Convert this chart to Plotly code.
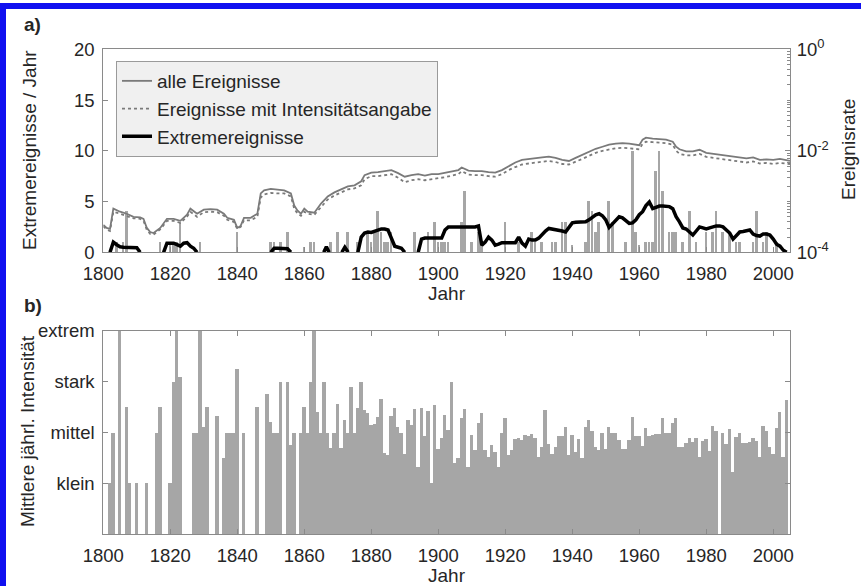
import plotly.graph_objects as go

# ---------------- data ----------------
# panel a: extreme events per year (bars)
ext_bar_years = [1804, 1806, 1807, 1817, 1820, 1821, 1822, 1823, 1829, 1840, 1850, 1851, 1853, 1855,
                 1860, 1862, 1863, 1868, 1870, 1873, 1876, 1879, 1880, 1881, 1882, 1883, 1884, 1885,
                 1886, 1893, 1897, 1899, 1900, 1901, 1902, 1903, 1907, 1908, 1910, 1912, 1913, 1920,
                 1924, 1928, 1929, 1931, 1934, 1935, 1937, 1938, 1940, 1944, 1945, 1946, 1947, 1948,
                 1951, 1952, 1956, 1958, 1959, 1960, 1962, 1963, 1964, 1965, 1966, 1967, 1969, 1970,
                 1971, 1973, 1975, 1977, 1980, 1982, 1983, 1985, 1987, 1989, 1990, 1994, 1995, 1997,
                 1998, 2001]
ext_bar_counts = [1, 1, 4, 1, 1, 1, 1, 3, 1, 2, 1, 1, 1, 2,
                  0.5, 1, 1, 1, 2, 2, 1, 2, 1, 2, 4, 2, 1, 1,
                  2, 2, 2, 3, 1, 1, 1, 1, 3, 6, 1, 2, 1, 3,
                  1, 2, 1, 1, 1, 1, 3, 3, 0.7, 1, 5, 4, 2, 3,
                  5, 3, 1, 10, 2, 0.7, 1, 1, 1, 8, 10, 6, 2, 2,
                  2, 1, 4, 1, 2, 2, 4, 2, 2, 1, 1, 1, 4, 1,
                  2, 1]

# panel a: event rate curves (read in left-axis units)
line_years = [1800, 1801, 1802, 1803, 1805, 1807, 1809, 1811, 1812, 1813, 1814, 1815, 1817, 1819,
              1821, 1823, 1825, 1826, 1828, 1830, 1832, 1834, 1836, 1837, 1839, 1840, 1841, 1842,
              1844, 1846, 1847, 1848, 1850, 1852, 1854, 1856, 1857, 1858, 1859, 1860, 1861, 1863,
              1865, 1867, 1869, 1871, 1873, 1875, 1877, 1878, 1880, 1882, 1884, 1886, 1888, 1890,
              1892, 1894, 1896, 1898, 1900, 1902, 1904, 1906, 1907, 1909, 1911, 1913, 1915, 1917,
              1919, 1921, 1923, 1925, 1927, 1929, 1931, 1933, 1935, 1937, 1939, 1941, 1943, 1945,
              1947, 1949, 1951, 1953, 1955, 1957, 1959, 1960, 1961, 1962, 1964, 1966, 1968, 1970,
              1971, 1972, 1974, 1976, 1978, 1980, 1982, 1984, 1986, 1988, 1990, 1992, 1994, 1996,
              1998, 2000, 2002, 2004, 2005]
alle = [2.7, 2.4, 2.3, 4.3, 4.0, 3.8, 3.5, 3.45, 3.3, 2.4, 2.0, 1.9, 2.4, 3.3,
        3.3, 3.1, 3.7, 4.3, 3.8, 4.2, 4.25, 4.2, 3.8, 3.4, 3.2, 2.4, 2.6, 3.4,
        3.4, 3.8, 5.8, 6.1, 6.25, 6.15, 6.1, 5.8, 4.6, 4.1, 3.8, 4.3, 4.0, 3.9,
        4.8, 5.5, 5.9, 6.2, 6.5, 6.6, 7.0, 7.6, 7.85, 7.9, 8.0, 8.1, 7.8, 7.45,
        7.6, 7.7, 7.55, 7.7, 7.7, 7.85, 7.95, 8.1, 8.35, 8.05, 8.0, 8.0, 7.9, 7.85,
        8.1, 8.5, 8.85, 9.1, 9.2, 9.3, 9.35, 9.42, 9.3, 9.1, 9.0, 9.3, 9.6, 9.9,
        10.2, 10.4, 10.6, 10.7, 10.75, 10.7, 10.6, 10.55, 11.1, 11.3, 11.2, 11.15, 11.1, 10.9,
        10.4, 10.15, 9.95, 9.95, 10.1, 9.8, 9.7, 9.65, 9.5, 9.4, 9.3, 9.25, 9.35, 9.1,
        9.15, 9.1, 9.2, 9.05, 9.0]
mit_intensitaet = [2.55, 2.25, 2.1, 4.0, 3.8, 3.6, 3.35, 3.3, 3.1, 2.2, 1.8, 1.75, 2.25, 3.1,
                   3.1, 2.9, 3.5, 4.0, 3.5, 3.95, 4.0, 3.95, 3.6, 3.2, 3.0, 2.3, 2.5, 3.15,
                   3.15, 3.5, 5.4, 5.7, 5.85, 5.8, 5.8, 5.5, 4.3, 3.8, 3.6, 4.0, 3.8, 3.7,
                   4.5, 5.2, 5.6, 5.9, 6.2, 6.3, 6.6, 7.2, 7.5, 7.5, 7.6, 7.7, 7.35, 6.9,
                   7.1, 7.2, 7.1, 7.2, 7.25, 7.4, 7.55, 7.7, 8.0, 7.65, 7.6, 7.6, 7.5, 7.45,
                   7.7, 8.1, 8.4, 8.65, 8.75, 8.85, 8.9, 9.0, 8.9, 8.7, 8.65, 8.9, 9.2, 9.5,
                   9.8, 10.0, 10.15, 10.25, 10.3, 10.25, 10.2, 10.15, 10.7, 10.9, 10.85, 10.8, 10.75, 10.6,
                   10.0, 9.7, 9.55, 9.55, 9.7, 9.4, 9.3, 9.25, 9.1, 9.0, 8.9, 8.85, 8.95, 8.75,
                   8.8, 8.7, 8.8, 8.7, 8.7]

ext_years = [1802, 1803, 1804, 1805, 1806, 1807, 1808, 1809, 1810, 1811, None,
             1818, 1819, 1820, 1821, 1822, 1823, 1824, 1825, 1826, 1827, 1828, None,
             1850, 1851, 1852, 1853, 1854, 1855, 1856, None,
             1865.8, 1866.6, 1867.4, None,
             1871.2, 1872.1, 1873.1, None,
             1876, 1877, 1878, 1879, 1880, 1881, 1882, 1883, 1884, 1885, 1886, 1887, 1888, 1889, 1890, None,
             1894, 1895, 1896, 1897, 1898, 1899, 1900, 1901, 1902, 1903, 1904, 1905, 1906, 1907, 1908,
             1909, 1910, 1911, 1912, 1913, 1914, 1915, 1916, 1917, 1918, 1919, 1920, 1921, 1922, 1923,
             1924, 1925, 1926, 1927, 1928, 1929, 1930, 1931, 1932, 1933, 1934, 1935, 1936, 1937, 1938,
             1939, 1940, 1941, 1942, 1943, 1944, 1945, 1946, 1947, 1948, 1949, 1950, 1951, 1952, 1953,
             1954, 1955, 1956, 1957, 1958, 1959, 1960, 1961, 1962, 1963, 1964, 1965, 1966, 1967, 1968,
             1969, 1970, 1971, 1972, 1973, 1974, 1975, 1976, 1977, 1978, 1979, 1980, 1981, 1982, 1983,
             1984, 1985, 1986, 1987, 1988, 1989, 1990, 1991, 1992, 1993, 1994, 1995, 1996, 1997, 1998,
             1999, 2000, 2001, 2002, 2003, 2004]
ext_vals = [0, 1.0, 0.75, 0.55, 0.5, 0.5, 0.5, 0.5, 0.45, 0, None,
            0, 0.9, 0.9, 0.9, 0.75, 0.6, 0.9, 0.95, 0.6, 0.4, 0, None,
            0, 0.4, 0.4, 0.4, 0.4, 0.35, 0, None,
            0, 0.55, 0, None,
            0, 0.5, 0, None,
            0, 1.5, 1.9, 2.0, 1.95, 2.05, 2.2, 2.3, 2.3, 2.2, 1.4, 0.6, 0.5, 0.4, 0, None,
            0, 1.3, 1.4, 1.4, 1.4, 1.4, 1.4, 1.4, 2.2, 2.5, 2.5, 2.5, 2.5, 2.5, 2.5,
            2.5, 2.5, 2.5, 2.6, 0.7, 1.0, 1.5, 1.2, 0.7, 0.8, 0.95, 0.95, 0.95, 0.95, 0.95,
            1.5, 0.9, 0.6, 1.3, 1.2, 1.2, 1.4, 1.8, 2.1, 2.35, 2.3, 2.27, 2.2, 2.1, 2.0,
            2.5, 2.9, 2.95, 2.95, 2.95, 3.0, 3.2, 3.5, 3.7, 3.8, 3.6, 3.2, 2.45, 2.8, 3.1,
            3.5, 3.4, 3.1, 2.85, 2.9, 3.2, 3.7, 4.0, 4.6, 4.95, 4.3, 4.4, 4.55, 4.55, 4.5,
            4.5, 4.3, 3.5, 3.0, 2.4, 2.3, 2.0, 1.7, 2.1, 2.5, 2.4, 2.3, 2.4, 2.5, 2.6,
            2.6, 2.5, 2.2, 1.9, 1.3, 1.7, 2.0, 2.05, 2.1, 2.2, 1.8, 1.65, 1.6, 1.8, 1.8,
            1.7, 1.3, 0.8, 0.6, 0.2, 0]

# panel b: mean annual intensity (0 = none, 1 = klein ... 4 = extrem)
int_years = list(range(1800, 2005))
int_vals = [0, 0, 1, 2, 0, 4, 0, 2.5, 1, 0,
            1, 0, 0, 1, 0, 0, 2, 2.5, 0, 0,
            1, 3, 4, 3.1, 0, 0, 0, 2, 2, 4,
            2.1, 2.5, 0, 0, 2.33, 0, 1.5, 2, 2, 2,
            3.25, 0, 2, 0, 0, 0, 2.5, 0, 0, 2.75,
            2.2, 2, 2, 3, 0, 3, 1.75, 2, 0, 2,
            2.5, 2, 3, 4, 2.4, 2, 3, 2, 1.7, 2,
            2.57, 1.7, 2.24, 2.0, 2.89, 2.0, 2.49, 3.0, 2.44, 2.39,
            2.15, 2.17, 2.3, 2.66, 1.6, 1.56, 2.33, 2.48, 2.1, 2.0,
            1.58, 2.24, 2.15, 2.46, 1.32, 2.49, 1.94, 2.43, 1.0, 2.54,
            1.67, 1.9, 2.35, 2.05, 3.0, 1.4, 1.49, 2.28, 2.46, 1.33,
            1.95, 1.66, 2.18, 2.39, 1.66, 1.52, 1.75, 1.62, 1.33, 2.0,
            2.28, 1.56, 1.66, 1.87, 1.89, 1.85, 1.95, 1.94, 1.98, 1.89,
            1.52, 1.71, 2.44, 1.77, 1.58, 1.72, 1.93, 1.93, 2.1, 1.56,
            1.96, 1.62, 1.87, 1.5, 2.1, 2.25, 2.02, 1.72, 1.66, 2.0,
            1.67, 2.1, 2.0, 2.0, 1.85, 1.68, 1.67, 1.85, 2.31, 1.93,
            1.93, 1.73, 2.08, 1.94, 1.96, 1.98, 1.98, 2.28, 2.0, 2.0,
            2.19, 2.28, 1.72, 1.72, 1.79, 1.89, 1.82, 1.89, 1.52, 1.84,
            1.87, 1.64, 2.13, 2.02, 0, 2.0, 1.77, 2.06, 1.23, 1.92,
            2.0, 1.8, 1.8, 1.82, 1.9, 1.84, 1.51, 2.13, 2.03, 1.72,
            1.58, 2.08, 2.4, 1.51, 2.64]

x_ticks = [1800, 1820, 1840, 1860, 1880, 1900, 1920, 1940, 1960, 1980, 2000]
rate_range = [1e-4, 1]
rate_ticks = [1e-4, 1e-2, 1]
rate_labels = ["10<sup>-4</sup>", "10<sup>-2</sup>", "10<sup>0</sup>"]
int_ticks = [1, 2, 3, 4]
int_labels = ["klein", "mittel", "stark", "extrem"]

# ---------------- figure ----------------
FONT = "Liberation Sans, Arial, sans-serif"
TXT = "#262626"
AX = "#8a8a8a"
BAR = "#a6a6a6"
W, H = 861, 586

fig = go.Figure()

fig.add_trace(go.Bar(x=ext_bar_years, y=ext_bar_counts, width=0.8, marker=dict(color=BAR, line=dict(width=0)),
                     showlegend=False, hoverinfo="skip", xaxis="x", yaxis="y"))
fig.add_trace(go.Scatter(x=line_years, y=alle, mode="lines", name="alle Ereignisse",
                         line=dict(color="#7a7a7a", width=1.8), xaxis="x", yaxis="y"))
fig.add_trace(go.Scatter(x=line_years, y=mit_intensitaet, mode="lines", name="Ereignisse mit Intensitätsangabe",
                         line=dict(color="#7a7a7a", width=1.8, dash="dot"), xaxis="x", yaxis="y"))
fig.add_trace(go.Scatter(x=ext_years, y=ext_vals, mode="lines", name="Extremereignisse",
                         line=dict(color="black", width=3.5), connectgaps=False, xaxis="x", yaxis="y"))
# carrier for the right-hand log axis (Ereignisrate); invisible
fig.add_trace(go.Scatter(x=[1800, 1800], y=rate_range, mode="markers", marker=dict(opacity=0, size=1),
                         showlegend=False, hoverinfo="skip", xaxis="x", yaxis="y2"))
fig.add_trace(go.Bar(x=int_years, y=int_vals, width=1.0, marker=dict(color=BAR, line=dict(width=0)),
                     showlegend=False, hoverinfo="skip", xaxis="x2", yaxis="y3"))

xdom = [103.3 / W, 790 / W]
ya_dom = [1 - 252.3 / H, 1 - 49.3 / H]
yb_dom = [1 - 534 / H, 1 - 331 / H]

common_axis = dict(showline=True, linecolor=AX, linewidth=1, ticks="inside", ticklen=5, tickcolor=AX,
                   showgrid=False, zeroline=False, tickfont=dict(family=FONT, size=18.5, color=TXT))

fig.update_layout(
    width=W, height=H, margin=dict(l=0, r=0, t=0, b=0, autoexpand=False),
    paper_bgcolor="white", plot_bgcolor="white",
    barmode="overlay", bargap=0,
    font=dict(family=FONT, color=TXT, size=19),
    xaxis=dict(domain=xdom, range=[1800, 2005], anchor="y", tickvals=x_ticks, mirror=True,
               ticklabelstandoff=4, automargin=False, **common_axis),
    yaxis=dict(domain=ya_dom, range=[0, 20], dtick=5, anchor="x", ticklabelstandoff=4,
               automargin=False, **common_axis),
    yaxis2=dict(overlaying="y", side="right", type="log", range=[-4, 0], anchor="x",
                tickvals=rate_ticks, ticktext=rate_labels, ticklabelstandoff=2, automargin=False,
                minor=dict(ticks="inside", ticklen=3, tickcolor=AX,
                           tickvals=[k * 10 ** e for e in (-4, -3, -2, -1) for k in range(2, 10)] + [1e-3, 1e-1]),
                **common_axis),
    xaxis2=dict(domain=xdom, range=[1800, 2005], anchor="y3", tickvals=x_ticks, mirror="ticks",
                ticklabelstandoff=5, automargin=False, **common_axis),
    yaxis3=dict(domain=yb_dom, range=[0, 4], anchor="x2", tickvals=int_ticks, ticktext=int_labels,
                mirror="ticks", ticklabelstandoff=4, automargin=False, **common_axis),
    legend=dict(x=116 / W, y=1 - 61 / H, xanchor="left", yanchor="top", bgcolor="#f0f0f0",
                bordercolor="#9a9a9a", borderwidth=1, font=dict(family=FONT, size=19, color=TXT),
                traceorder="normal", tracegroupgap=0, itemwidth=30),
)

annotations = [
    dict(text="<b>a)</b>", x=22 / W, y=1 - 25 / H, xanchor="left", yanchor="middle", font=dict(size=19)),
    dict(text="<b>b)</b>", x=22 / W, y=1 - 305 / H, xanchor="left", yanchor="middle", font=dict(size=19)),
    dict(text="Extremereignisse / Jahr", x=29 / W, y=1 - 150 / H, textangle=-90, xanchor="center",
         yanchor="middle", font=dict(size=19)),
    dict(text="Ereignisrate", x=848 / W, y=1 - 150 / H, textangle=-90, xanchor="center",
         yanchor="middle", font=dict(size=19)),
    dict(text="Mittlere jährl. Intensität", x=28 / W, y=1 - 431 / H, textangle=-90, xanchor="center",
         yanchor="middle", font=dict(size=19)),
    dict(text="Jahr", x=447 / W, y=1 - 293 / H, xanchor="center", yanchor="middle", font=dict(size=19)),
    dict(text="Jahr", x=447 / W, y=1 - 575 / H, xanchor="center", yanchor="middle", font=dict(size=19)),
]
for a in annotations:
    a.update(xref="paper", yref="paper", showarrow=False)
    a["font"].update(family=FONT, color=TXT)
fig.update_layout(annotations=annotations)

# blue frame (top and left edge)
fig.update_layout(shapes=[
    dict(type="rect", xref="paper", yref="paper", x0=0, x1=1, y0=1 - 3 / H, y1=1 - 9 / H,
         fillcolor="#1010f0", line=dict(width=0)),
    dict(type="rect", xref="paper", yref="paper", x0=0, x1=6 / W, y0=0, y1=1 - 3 / H,
         fillcolor="#1010f0", line=dict(width=0)),
])

fig.write_html("out.html", config={"displayModeBar": False},
               post_script="document.body.style.margin='0';document.body.style.overflow='hidden';")
